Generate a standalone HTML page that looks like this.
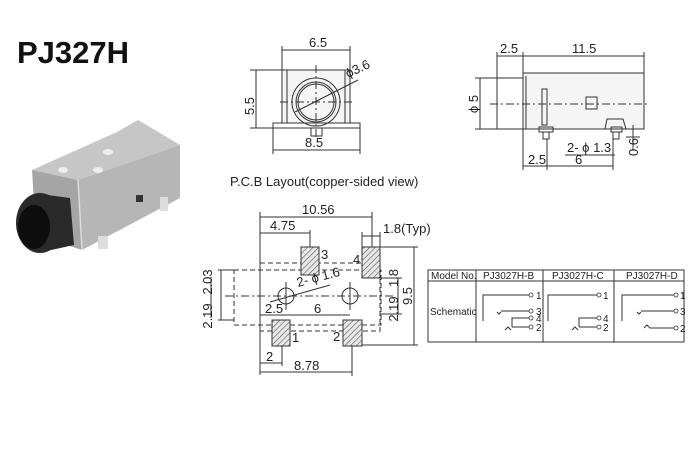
<!DOCTYPE html>
<html><head><meta charset="utf-8"><style>
html,body{margin:0;padding:0;background:#fff;width:700px;height:450px;overflow:hidden}
svg{display:block}
text{font-family:"Liberation Sans",sans-serif;fill:#222}
</style></head><body>
<svg width="700" height="450" viewBox="0 0 700 450" xmlns="http://www.w3.org/2000/svg">
<defs>
<pattern id="h" width="4" height="4" patternUnits="userSpaceOnUse" patternTransform="rotate(45)">
<rect width="4" height="4" fill="#e8e8e8"/><line x1="0" y1="0" x2="0" y2="4" stroke="#555" stroke-width="1.2"/></pattern>
</defs>
<text x="17" y="63" font-size="31" font-weight="bold" fill="#111" style="fill:#111">PJ327H</text>

<!-- photo -->
<g>
<polygon points="32,170 117,132 138,120 180,145 78,180" fill="#c6c6c6"/>
<polygon points="78,180 180,145 180,198 82,250" fill="#b6b6b6"/>
<polygon points="32,170 78,180 82,250 36,235" fill="#a5a5a5"/>
<line x1="78" y1="180" x2="82" y2="250" stroke="#ddd" stroke-width="1.5"/>
<rect x="136" y="195" width="7" height="7" fill="#333"/>
<rect x="160" y="197" width="8" height="14" fill="#ddd"/>
<rect x="98" y="236" width="10" height="13" fill="#ddd"/>
<ellipse cx="63" cy="170" rx="5" ry="3" fill="#eee"/>
<ellipse cx="98" cy="170" rx="5" ry="3" fill="#eee"/>
<ellipse cx="108" cy="152" rx="5" ry="3" fill="#eee"/>
<path d="M40,194 L70,198 L74,245 L42,252Z" fill="#2a2a2a"/>
<ellipse cx="40" cy="223" rx="24" ry="30" fill="#2a2a2a"/>
<ellipse cx="34" cy="227" rx="16" ry="22" fill="#0d0d0d"/>
</g>

<g stroke="#333" stroke-width="1" fill="none">
<!-- front view -->
<rect x="282" y="70" width="68" height="55" fill="#f5f5f5"/>
<line x1="287" y1="70" x2="287" y2="125"/><line x1="345" y1="70" x2="345" y2="125"/>
<rect x="273" y="123" width="87" height="5" fill="#fff"/>
<rect x="311" y="128" width="11" height="8"/>
<circle cx="316" cy="102" r="24"/><circle cx="316" cy="102" r="20"/><circle cx="316" cy="102" r="18"/>
<line x1="280" y1="102" x2="352" y2="102" stroke-dasharray="8,3,2,3"/>
<line x1="316" y1="65" x2="316" y2="140" stroke-dasharray="8,3,2,3"/>
<line x1="295" y1="112" x2="358" y2="80"/>
<line x1="282" y1="46" x2="282" y2="70"/><line x1="350" y1="46" x2="350" y2="70"/>
<line x1="282" y1="50" x2="350" y2="50"/>
<line x1="250" y1="70" x2="282" y2="70"/><line x1="250" y1="128" x2="273" y2="128"/>
<line x1="256" y1="70" x2="256" y2="128"/>
<line x1="273" y1="128" x2="273" y2="154"/><line x1="360" y1="128" x2="360" y2="154"/>
<line x1="273" y1="150" x2="360" y2="150"/>

<!-- side view -->
<rect x="497" y="78" width="26" height="51"/>
<rect x="523" y="73" width="121" height="56" fill="#f5f5f5"/>
<line x1="526" y1="76" x2="526" y2="129"/>
<line x1="490" y1="104" x2="650" y2="104" stroke-dasharray="8,3,2,3"/>
<rect x="586" y="97" width="11" height="12"/>
<rect x="542" y="89" width="5" height="36"/>
<rect x="539" y="127" width="14" height="5"/><rect x="543" y="132" width="6" height="7"/>
<path d="M605,129 L607,119 L623,119 L626,129"/>
<rect x="611" y="127" width="11" height="5"/><rect x="613" y="132" width="6" height="7"/>
<line x1="497" y1="52" x2="497" y2="78"/><line x1="523" y1="52" x2="523" y2="73"/><line x1="644" y1="52" x2="644" y2="73"/>
<line x1="497" y1="56" x2="644" y2="56"/>
<line x1="475" y1="78" x2="497" y2="78"/><line x1="475" y1="129" x2="497" y2="129"/>
<line x1="480" y1="78" x2="480" y2="129"/>
<line x1="523" y1="129" x2="523" y2="170"/><line x1="547" y1="139" x2="547" y2="170"/><line x1="613" y1="139" x2="613" y2="170"/>
<line x1="523" y1="166" x2="613" y2="166"/>
<line x1="565" y1="155" x2="615" y2="155"/>
<line x1="633" y1="125" x2="633" y2="150"/>
<line x1="626" y1="129" x2="640" y2="129"/><line x1="626" y1="137" x2="640" y2="137"/>

<!-- PCB -->
<rect x="234" y="270" width="147" height="55" stroke-dasharray="5,3"/>
<rect x="260" y="263" width="120" height="68" stroke-dasharray="5,3"/>
<line x1="225" y1="296" x2="395" y2="296" stroke-dasharray="8,3,2,3"/>
<circle cx="286" cy="296" r="8"/><circle cx="350" cy="296" r="8"/>
<line x1="286" y1="282" x2="286" y2="310"/><line x1="350" y1="282" x2="350" y2="310"/>
<line x1="270" y1="302" x2="330" y2="285"/>
<line x1="260" y1="212" x2="260" y2="375"/>
<line x1="372" y1="212" x2="372" y2="247"/>
<line x1="260" y1="217" x2="372" y2="217"/>
<line x1="310" y1="230" x2="310" y2="247"/>
<line x1="260" y1="233" x2="310" y2="233"/>
<line x1="362" y1="232" x2="362" y2="247"/><line x1="380" y1="232" x2="380" y2="247"/>
<line x1="362" y1="236" x2="380" y2="236"/>
<line x1="282" y1="346" x2="282" y2="366"/><line x1="260" y1="363" x2="282" y2="363"/>
<line x1="352" y1="346" x2="352" y2="376"/><line x1="260" y1="372" x2="352" y2="372"/>
<line x1="260" y1="315" x2="350" y2="315"/>
<line x1="380" y1="247" x2="418" y2="247"/><line x1="362" y1="345" x2="418" y2="345"/>
<line x1="414" y1="247" x2="414" y2="345"/>
<line x1="380" y1="278" x2="402" y2="278"/><line x1="380" y1="314" x2="402" y2="314"/>
<line x1="398" y1="278" x2="398" y2="314"/>
<line x1="218" y1="270" x2="234" y2="270"/><line x1="218" y1="320" x2="234" y2="320"/>
<line x1="221" y1="270" x2="221" y2="320"/><line x1="211" y1="277" x2="211" y2="318"/>
</g>
<g stroke="#333" stroke-width="1">
<rect x="301" y="247" width="18" height="28" fill="url(#h)"/>
<rect x="362" y="247" width="18" height="31" fill="url(#h)"/>
<rect x="272" y="320" width="18" height="26" fill="url(#h)"/>
<rect x="343" y="320" width="19" height="26" fill="url(#h)"/>
</g>

<g font-size="13">
<text x="309" y="47">6.5</text>
<text x="348" y="78" transform="rotate(-25 348 78)">ϕ3.6</text>
<text x="254" y="106" transform="rotate(-90 254 106)" text-anchor="middle">5.5</text>
<text x="305" y="147">8.5</text>
<text x="500" y="53">2.5</text>
<text x="572" y="53">11.5</text>
<text x="478" y="104" transform="rotate(-90 478 104)" text-anchor="middle">ϕ 5</text>
<text x="567" y="152">2- ϕ 1.3</text>
<text x="638" y="147" transform="rotate(-90 638 147)" text-anchor="middle">0.6</text>
<text x="528" y="164">2.5</text>
<text x="575" y="164">6</text>
<text x="230" y="186">P.C.B Layout(copper-sided view)</text>
<text x="302" y="214">10.56</text>
<text x="270" y="230">4.75</text>
<text x="383" y="233">1.8(Typ)</text>
<text x="321" y="259">3</text>
<text x="353" y="264">4</text>
<text x="292" y="342">1</text>
<text x="333" y="341">2</text>
<text x="298" y="287" transform="rotate(-15 298 287)">2- ϕ 1.6</text>
<text x="265" y="313">2.5</text>
<text x="314" y="313">6</text>
<text x="266" y="361">2</text>
<text x="294" y="370">8.78</text>
<text x="212" y="282" transform="rotate(-90 212 282)" text-anchor="middle">2.03</text>
<text x="212" y="316" transform="rotate(-90 212 316)" text-anchor="middle">2.19</text>
<text x="398" y="278" transform="rotate(-90 398 278)" text-anchor="middle">1.8</text>
<text x="398" y="309" transform="rotate(-90 398 309)" text-anchor="middle">2.19</text>
<text x="412" y="296" transform="rotate(-90 412 296)" text-anchor="middle">9.5</text>
</g>

<!-- table -->
<g stroke="#333" stroke-width="1" fill="none">
<rect x="428" y="270" width="256" height="72"/>
<line x1="428" y1="281" x2="684" y2="281"/>
<line x1="476" y1="270" x2="476" y2="342"/>
<line x1="543" y1="270" x2="543" y2="342"/>
<line x1="614" y1="270" x2="614" y2="342"/>
<path d="M483,321 v-26 h46"/><path d="M497,312 l2,2 l2,-2 M501,311 h28"/><path d="M512,327 v-9 h17 M512,327 h17"/>
<path d="M505,330 l3,-3 l3,3"/>
<path d="M548,321 v-26 h49"/><path d="M579,327 v-9 h18 M579,327 h18"/><path d="M572,330 l3,-3 l3,3"/>
<path d="M622,321 v-26 h52"/><path d="M637,312 l2,2 l2,-2 M641,311 h33"/><path d="M644,328 l3,-3 l3,3 h24"/>
</g>
<g fill="#fff" stroke="#333" stroke-width="0.8">
<circle cx="531" cy="295" r="2"/><circle cx="531" cy="311" r="2"/><circle cx="531" cy="318" r="2"/><circle cx="531" cy="327" r="2"/>
<circle cx="599" cy="295" r="2"/><circle cx="599" cy="318" r="2"/><circle cx="599" cy="327" r="2"/>
<circle cx="676" cy="295" r="2"/><circle cx="676" cy="311" r="2"/><circle cx="676" cy="328" r="2"/>
</g>
<g font-size="10">
<text x="431" y="279">Model No.</text>
<text x="483" y="279">PJ3027H-B</text>
<text x="552" y="279">PJ3027H-C</text>
<text x="626" y="279">PJ3027H-D</text>
<text x="430" y="315">Schematic</text>
<text x="536" y="299">1</text><text x="536" y="315">3</text><text x="536" y="322">4</text><text x="536" y="331">2</text>
<text x="603" y="299">1</text><text x="603" y="322">4</text><text x="603" y="331">2</text>
<text x="680" y="299">1</text><text x="680" y="315">3</text><text x="680" y="332">2</text>
</g>
</svg>
</body></html>
